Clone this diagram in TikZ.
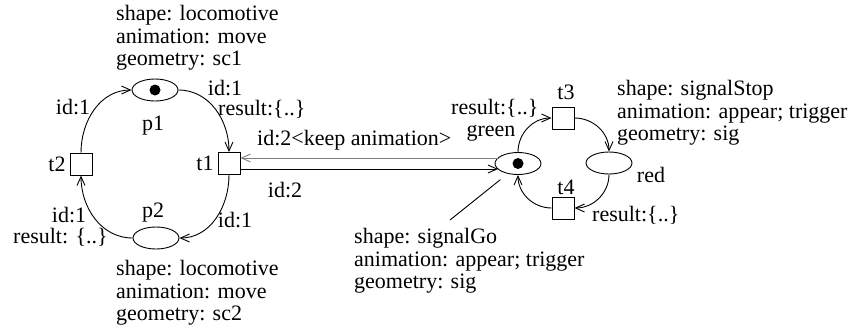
\documentclass[tikz,border=0pt]{standalone}
\usepackage{fontspec}
\setmainfont{Liberation Serif}
\usetikzlibrary{arrows.meta,calc,shapes.geometric}
\begin{document}
\begin{tikzpicture}[x=1pt,y=1pt,
  font=\fontsize{22}{22.7}\selectfont,
  every node/.style={inner sep=0pt},
  place/.style={draw,ellipse,minimum width=46pt,minimum height=22pt,line width=0.9pt},
  trans/.style={draw,rectangle,minimum size=22pt,line width=0.9pt},
  token/.style={fill,circle,minimum size=11pt},
  arc/.style={line width=0.9pt,-{Straight Barb[length=9pt,width=8pt]}},
  plain/.style={line width=0.9pt},
  block/.style={align=left,anchor=north west},
  lw/.style={anchor=west},
]
\useasboundingbox (0,0) rectangle (854,-333);

% left net
\node[place] (p1) at (155,-90) {};
\node[token] (p1tok) at (p1) {};
\node[trans] (t1) at (229,-163.5) {};
\node[trans] (t2) at (81,-164) {};
\node[place] (p2) at (156,-238) {};

% right net
\node[place] (green) at (518,-163.5) {};
\node[token] (gtok) at (green) {};
\node[trans] (t3) at (563,-118) {};
\node[place] (red) at (609,-163) {};
\node[trans] (t4) at (563,-208) {};

% arcs left
\draw[arc] (p1.east) to[out=0,in=90] (t1.north);
\draw[arc] (t2.north) to[out=90,in=180] (p1.west);
\draw[arc] (t1.south) to[out=-90,in=0] (p2.east);
\draw[arc] (p2.west) to[out=180,in=-90] (t2.south);

% arcs right
\draw[arc] (green.north) to[out=90,in=180] (t3.west);
\draw[arc] (t3.east) to[out=0,in=90] (red.north);
\draw[arc] (red.south) to[out=-90,in=0] (t4.east);
\draw[arc] (t4.west) to[out=180,in=-90] (green.south);

% double connection
\draw[arc,gray] ($(green.west)+(3.5,5.5)$) -- ($(t1.east)+(0,5.5)$);
\draw[arc] ($(t1.east)+(0,-5.5)$) -- ($(green.west)+(3.5,-5.5)$);

% pointer line
\coordinate (gp) at (450,-220);
\draw[plain] (gp) -- ($(green.south west)+(-1,-8)$);

% text blocks
\node[block] (tl) at (116,-5) {shape: locomotive\\animation: move\\geometry: sc1};
\node[block] (bl) at (116,-260) {shape: locomotive\\animation: move\\geometry: sc2};
\node[block] (sg) at (354,-228) {shape: signalGo\\animation: appear; trigger\\geometry: sig};
\node[block] (ss) at (617,-80) {shape: signalStop\\animation: appear; trigger\\geometry: sig};

% labels
\node (lid1) at (73,-107) {id:1};
\node (lid2) at (225,-88.5) {id:1};
\node[lw] (lres1) at (218,-109.5) {result:\{..\}};
\node (lp1) at (153,-126) {p1};
\node (lt2) at (57,-164) {t2};
\node (lt1) at (205,-163) {t1};
\node (lid3) at (69,-215) {id:1};
\node[lw] (lres2) at (13,-237) {result: \{..\}};
\node (lp2) at (153,-213) {p2};
\node (lid4) at (235,-220) {id:1};
\node[lw] (lkeep) at (257,-140) {id:2<keep animation>};
\node (lid5) at (285,-190) {id:2};
\node (lgreen) at (491,-133) {green};
\node[lw] (lres3) at (451,-108) {result:\{..\}};
\node (lt3) at (566,-92) {t3};
\node (lred) at (651,-175) {red};
\node (lt4) at (566,-187) {t4};
\node[lw] (lres4) at (592,-215) {result:\{..\}};
\end{tikzpicture}
\end{document}
